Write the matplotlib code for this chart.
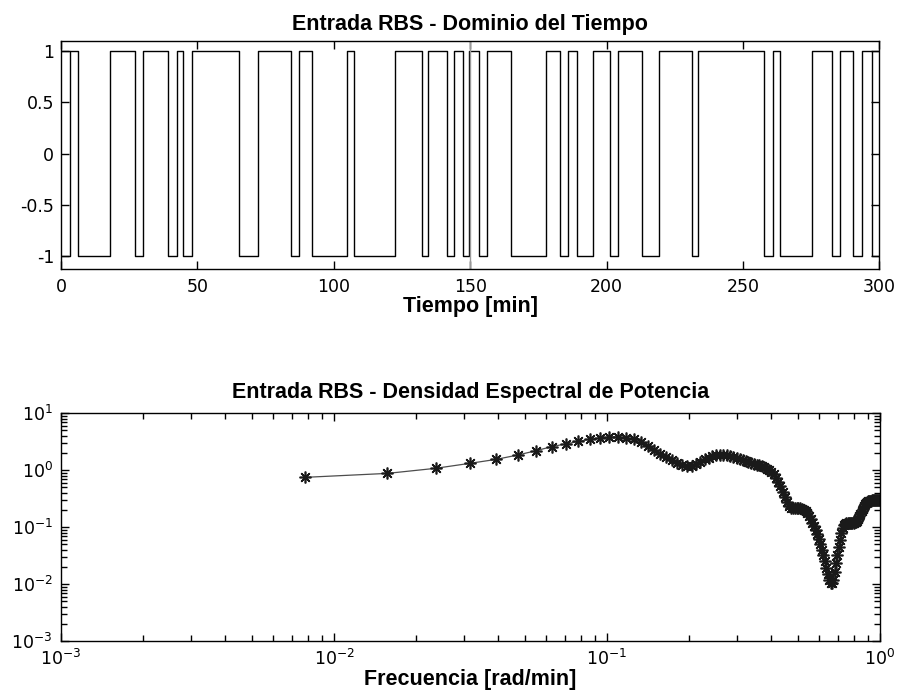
import matplotlib
matplotlib.use("Agg")
import matplotlib.pyplot as plt
import numpy as np
from matplotlib.ticker import LogLocator, NullFormatter


# RBS input: switching instants [min], first level and experiment length
switch_times = [3.2, 6.2, 18.1, 27.0, 30.0, 39.4, 42.5, 44.9, 48.0, 65.4,
                72.3, 84.3, 87.3, 92.2, 105.0, 107.6, 122.4, 132.2, 134.4,
                141.4, 144.2, 147.5, 149.6, 153.2, 156.3, 164.8, 177.7,
                182.9, 186.0, 189.3, 194.9, 201.2, 204.3, 212.9, 219.3,
                231.2, 233.6, 257.8, 261.1, 263.6, 275.4, 282.5, 285.6,
                290.4, 293.5, 297.5]
first_level = -1
t_end = 300
t_mark = 150

# power spectral density of the RBS input
freq_step = 0.00785  # rad/min
psd = [0.75, 0.88, 1.08, 1.32, 1.55, 1.85, 2.2, 2.6, 2.9, 3.2,
       3.5, 3.7, 3.8, 3.85, 3.75, 3.5, 3.1, 2.7, 2.3, 1.95,
       1.7, 1.5, 1.33, 1.22, 1.18, 1.2, 1.28, 1.42, 1.55, 1.67,
       1.76, 1.82, 1.85, 1.86, 1.84, 1.8, 1.74, 1.67, 1.6, 1.52,
       1.45, 1.4, 1.35, 1.3, 1.26, 1.22, 1.17, 1.12, 1.06, 1.0,
       0.94, 0.85, 0.74, 0.62, 0.52, 0.42, 0.34, 0.28, 0.24, 0.22,
       0.215, 0.215, 0.215, 0.215, 0.215, 0.21, 0.2, 0.19, 0.175, 0.16,
       0.14, 0.12, 0.105, 0.09, 0.075, 0.062, 0.05, 0.04, 0.032, 0.025,
       0.019, 0.015, 0.012, 0.0105, 0.0105, 0.012, 0.016, 0.023, 0.033, 0.045,
       0.06, 0.078, 0.095, 0.108, 0.115, 0.118, 0.118, 0.118, 0.118, 0.118,
       0.118, 0.12, 0.122, 0.125, 0.13, 0.14, 0.155, 0.17, 0.19, 0.21,
       0.235, 0.255, 0.27, 0.28, 0.29, 0.29, 0.29, 0.29, 0.295, 0.3,
       0.3, 0.3, 0.3, 0.3, 0.3, 0.3, 0.3]

plt.rcParams["font.family"] = ["DejaVu Sans"]
plt.rcParams["axes.unicode_minus"] = False
plt.rcParams["mathtext.default"] = "regular"
plt.rcParams["axes.linewidth"] = 1.0

TICK_FS = 12.5
LABEL_FONT = dict(family=["Liberation Sans", "DejaVu Sans"], weight="bold",
                  size=15.5)

fig = plt.figure(figsize=(8.99, 6.97), dpi=100)
W, H = 899, 697

# ---- time domain ----
ax1 = fig.add_axes([61 / W, 1 - 269.3 / H, 818.3 / W, 228.3 / H])
edges = np.concatenate([[0], switch_times, [t_end]])
levels = first_level * (-1) ** np.arange(len(edges) - 1)
ax1.step(edges, np.append(levels, levels[-1]), where="post",
         color="k", lw=1.0)
# the first and last interval are also drawn at the high level
ax1.hlines([1, 1], [0, switch_times[-1]], [switch_times[0], t_end],
           color="k", lw=1.0)
ax1.axvline(t_mark, color="0.6", lw=1.0)
ax1.set_xlim(0, t_end)
ax1.set_ylim(-1.13, 1.1)
ax1.set_xticks(np.arange(0, 301, 50))
ax1.set_yticks([-1, -0.5, 0, 0.5, 1])
ax1.set_yticklabels(["-1", "-0.5", "0", "0.5", "1"])
ax1.tick_params(direction="in", length=6, width=1, top=True, right=True,
                labelsize=TICK_FS)
ax1.tick_params(axis="x", pad=6)
ax1.tick_params(axis="y", pad=5)
ax1.set_title("Entrada RBS - Dominio del Tiempo", pad=8, **LABEL_FONT)
ax1.set_xlabel("Tiempo [min]", labelpad=0, **LABEL_FONT)

# ---- power spectral density ----
ax2 = fig.add_axes([61 / W, 1 - 641 / H, 819 / W, 227.7 / H])
freq = freq_step * np.arange(1, len(psd) + 1)
ax2.loglog(freq, psd, color="0.3", lw=0.9, marker=(8, 2, 0),
           markersize=8.5, markeredgewidth=1.2, markeredgecolor="0.1")
ax2.set_xlim(1e-3, 1e0)
ax2.set_ylim(1e-3, 1e1)
ax2.xaxis.set_major_locator(LogLocator(base=10, numticks=10))
ax2.yaxis.set_major_locator(LogLocator(base=10, numticks=10))
ax2.xaxis.set_minor_locator(LogLocator(base=10, subs=np.arange(2, 10),
                                       numticks=20))
ax2.yaxis.set_minor_locator(LogLocator(base=10, subs=np.arange(2, 10),
                                       numticks=20))
ax2.xaxis.set_minor_formatter(NullFormatter())
ax2.yaxis.set_minor_formatter(NullFormatter())
ax2.tick_params(which="both", direction="in", top=True, right=True,
                labelsize=TICK_FS, width=1)
ax2.tick_params(which="major", length=6)
ax2.tick_params(which="minor", length=4)
ax2.tick_params(axis="x", pad=6)
ax2.tick_params(axis="y", pad=6)
ax2.set_title("Entrada RBS - Densidad Espectral de Potencia", pad=11,
              **LABEL_FONT)
ax2.set_xlabel("Frecuencia [rad/min]", labelpad=0, **LABEL_FONT)

fig.savefig("out.png", dpi=100)
